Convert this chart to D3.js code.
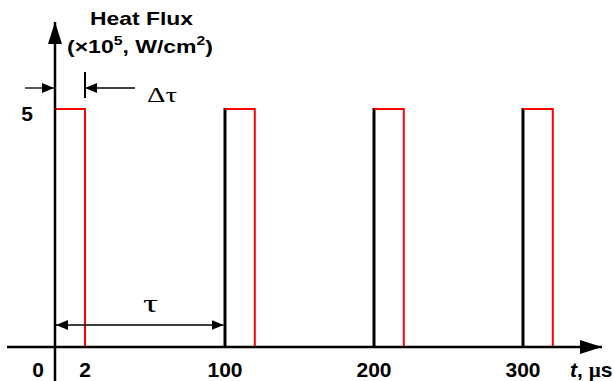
<!DOCTYPE html>
<html>
<head>
<meta charset="utf-8">
<script src="https://cdn.jsdelivr.net/npm/d3@7"></script>
<style>
  body { margin: 0; background: #fff; }
  text { font-family: "Liberation Sans", Arial, sans-serif; font-weight: bold; fill: #000; }
</style>
</head>
<body>
<script>
// pulse train data (schematic: first pulse end is labelled "2")
const pulseStarts = [0, 100, 200, 300];
const pulseWidth = 20;
const pulseHeight = 5;
const tickValues = [0, 20, 100, 200, 300];
const tickLabels = ['0', '2', '100', '200', '300'];

const width = 614, height = 381;

const svg = d3.select('body').append('svg')
  .attr('width', width)
  .attr('height', height);

// piecewise scale, since the sketch is not drawn to scale near zero
const x = d3.scaleLinear()
  .domain([0, 20, 100, 300])
  .range([55, 85, 225, 523]);

const y = d3.scaleLinear()
  .domain([0, 5])
  .range([347, 109]);

// arrow markers
const defs = svg.append('defs');
defs.append('marker')
  .attr('id', 'head')
  .attr('viewBox', '0 0 22 14')
  .attr('refX', 22).attr('refY', 7)
  .attr('markerWidth', 22).attr('markerHeight', 14)
  .attr('markerUnits', 'userSpaceOnUse')
  .attr('orient', 'auto')
  .append('path').attr('d', 'M0,0L22,7L0,14Z').attr('fill', '#000');
defs.append('marker')
  .attr('id', 'small')
  .attr('viewBox', '0 0 12 10')
  .attr('refX', 12).attr('refY', 5)
  .attr('markerWidth', 12).attr('markerHeight', 10)
  .attr('markerUnits', 'userSpaceOnUse')
  .attr('orient', 'auto-start-reverse')
  .append('path').attr('d', 'M0,0L12,5L0,10Z').attr('fill', '#000');

// pulses
const pulses = svg.append('g');
pulseStarts.forEach(s => {
  pulses.append('line')
    .attr('x1', x(s)).attr('x2', x(s))
    .attr('y1', y(0)).attr('y2', y(pulseHeight) - 1)
    .attr('stroke', '#000').attr('stroke-width', s === 0 ? 0 : 3);
  pulses.append('path')
    .attr('d', `M${x(s)},${y(pulseHeight)}H${x(s + pulseWidth)}V${y(0)}`)
    .attr('fill', 'none')
    .attr('stroke', '#ff0000')
    .attr('stroke-width', 2);
});

// x axis
svg.append('line')
  .attr('x1', 7).attr('x2', 602)
  .attr('y1', y(0)).attr('y2', y(0))
  .attr('stroke', '#000').attr('stroke-width', 2.5)
  .attr('marker-end', 'url(#head)');

// y axis
svg.append('line')
  .attr('x1', x(0)).attr('x2', x(0))
  .attr('y1', height).attr('y2', 22)
  .attr('stroke', '#000').attr('stroke-width', 2.5)
  .attr('marker-end', 'url(#head)');

// x tick labels
svg.append('g').selectAll('text')
  .data(tickValues)
  .join('text')
  .attr('x', (d, i) => i === 0 ? x(d) - 17 : x(d))
  .attr('y', 377)
  .attr('text-anchor', 'middle')
  .style('font-size', '21px')
  .text((d, i) => tickLabels[i]);

svg.append('text')
  .attr('x', 570).attr('y', 377)
  .style('font-size', '21px')
  .html('<tspan font-style="italic">t</tspan>, <tspan font-family="Liberation Serif, serif">µ</tspan>s');

// y tick label
svg.append('text')
  .attr('x', 27).attr('y', 121)
  .attr('text-anchor', 'middle')
  .style('font-size', '21px')
  .text(pulseHeight);

// y axis title
svg.append('text')
  .attr('x', 90).attr('y', 25)
  .attr('textLength', 103)
  .attr('lengthAdjust', 'spacingAndGlyphs')
  .style('font-size', '19px')
  .text('Heat Flux');
svg.append('text')
  .attr('x', 67).attr('y', 53)
  .attr('textLength', 146)
  .attr('lengthAdjust', 'spacingAndGlyphs')
  .style('font-size', '19px')
  .html('(×10<tspan dy="-8" font-size="13px">5</tspan><tspan dy="8">, W/cm</tspan><tspan dy="-8" font-size="13px">2</tspan><tspan dy="8">)</tspan>');

// delta tau annotation
const ay = 88;
svg.append('line')
  .attr('x1', 25).attr('x2', x(0) - 1)
  .attr('y1', ay).attr('y2', ay)
  .attr('stroke', '#000').attr('stroke-width', 1.3)
  .attr('marker-end', 'url(#small)');
svg.append('line')
  .attr('x1', 135).attr('x2', x(pulseWidth))
  .attr('y1', ay).attr('y2', ay)
  .attr('stroke', '#000').attr('stroke-width', 1.3)
  .attr('marker-end', 'url(#small)');
svg.append('line')
  .attr('x1', x(pulseWidth)).attr('x2', x(pulseWidth))
  .attr('y1', 72).attr('y2', 98)
  .attr('stroke', '#000').attr('stroke-width', 2);
svg.append('text')
  .attr('x', 147).attr('y', 102)
  .attr('textLength', 30)
  .attr('lengthAdjust', 'spacingAndGlyphs')
  .style('font-family', '"Liberation Serif", serif')
  .style('font-weight', 'normal')
  .style('font-size', '21px')
  .text('Δτ');

// tau annotation
const ty = 325;
svg.append('line')
  .attr('x1', x(0) + 1).attr('x2', x(100) - 1.5)
  .attr('y1', ty).attr('y2', ty)
  .attr('stroke', '#000').attr('stroke-width', 1.3)
  .attr('marker-start', 'url(#small)')
  .attr('marker-end', 'url(#small)');
svg.append('text')
  .attr('x', 143).attr('y', 312)
  .attr('textLength', 15)
  .attr('lengthAdjust', 'spacingAndGlyphs')
  .style('font-family', '"Liberation Serif", serif')
  .style('font-weight', 'normal')
  .style('font-size', '26px')
  .text('τ');
</script>
</body>
</html>
